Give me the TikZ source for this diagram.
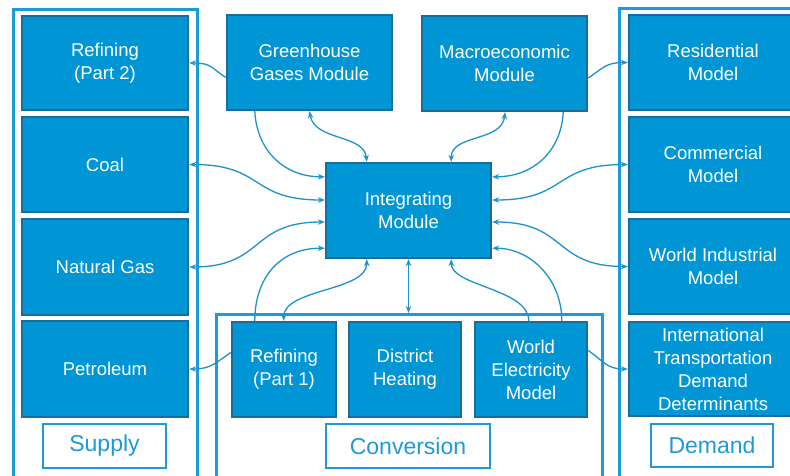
\documentclass[tikz,border=0pt]{standalone}
\usepackage{fontspec}
\setmainfont{Liberation Sans}
\usetikzlibrary{arrows.meta,calc}
\definecolor{boxfill}{RGB}{0,150,214}
\definecolor{boxedge}{RGB}{26,108,156}
\definecolor{frameblue}{RGB}{30,155,215}
\definecolor{linkblue}{RGB}{30,146,206}
\tikzset{
  module/.style={draw=boxedge, line width=2.4pt, fill=boxfill, text=white,
    align=center, inner sep=0pt, font=\fontsize{18.5}{23}\selectfont},
  grouplabel/.style={draw=frameblue, line width=2.4pt, fill=white, text=frameblue,
    inner sep=0pt, font=\fontsize{23}{26}\selectfont},
  container/.style={draw=frameblue, line width=2.6pt, inner sep=0pt, anchor=north west},
  link/.style={draw=linkblue, line width=1.3pt, -{Stealth[length=7pt,width=5.5pt]}},
  linkboth/.style={draw=linkblue, line width=1.3pt,
    {Stealth[length=7pt,width=5.5pt]}-{Stealth[length=7pt,width=5.5pt]}}
}
\begin{document}
\begin{tikzpicture}[x=1pt,y=-1pt]
\useasboundingbox (0,0) rectangle (790,475);
\clip (0,0) rectangle (790,475);
\fill[white] (0,0) rectangle (790,475);

% group frames
\node[container, minimum width=184, minimum height=490] (supplyc) at (12,8) {};
\node[container, minimum width=386, minimum height=190] (convc) at (215,313) {};
\node[container, minimum width=200, minimum height=490] (demandc) at (618,7) {};

% supply column
\node[module, minimum width=166, minimum height=94] (ref2) at (105,63) {Refining\\(Part 2)};
\node[module, minimum width=166, minimum height=95] (coal) at (105,164.5) {Coal};
\node[module, minimum width=166, minimum height=96] (gas) at (105,267) {Natural Gas};
\node[module, minimum width=166, minimum height=96] (petro) at (105,369) {Petroleum};
\node[grouplabel, minimum width=123, minimum height=44] (supplylbl) at (104.5,446) {Supply};

% central modules
\node[module, minimum width=165, minimum height=95] (ghg) at (309.5,62.5) {Greenhouse\\Gases Module};
\node[module, minimum width=165, minimum height=95] (macro) at (504.5,63.5) {Macroeconomic\\Module};
\node[module, minimum width=165, minimum height=95] (integ) at (408.5,210.5) {Integrating\\Module};

% conversion row
\node[module, minimum width=104, minimum height=95] (ref1) at (284,369.5) {Refining\\(Part 1)};
\node[module, minimum width=112, minimum height=95] (dh) at (405,369.5) {District\\Heating};
\node[module, minimum width=112, minimum height=95] (wem) at (531,369.5) {World\\Electricity\\Model};
\node[grouplabel, minimum width=164, minimum height=44] (convlbl) at (408,446) {Conversion};

% demand column
\node[module, minimum width=168, minimum height=95] (res) at (713,62.5) {Residential\\Model};
\node[module, minimum width=168, minimum height=95] (com) at (713,164.5) {Commercial\\Model};
\node[module, minimum width=168, minimum height=95] (wind) at (713,266.5) {World Industrial\\Model};
\node[module, minimum width=168, minimum height=94] (itd) at (713,369) {International\\Transportation\\Demand\\Determinants};
\node[grouplabel, minimum width=122, minimum height=43] (demandlbl) at (712,445.5) {Demand};

% connectors, left side
\draw[link] ($(ghg.west)+(0,15)$) .. controls +(-15,-10) and +(22,0) .. (ref2.east);
\draw[link] ($(ghg.south west)+(29,0)$) .. controls +(2,40) and +(-40,0) .. ($(integ.north west)+(0,15)$);
\draw[linkboth] (ghg.south) .. controls +(5,30) and +(-3,-28) .. ($(integ.north west)+(42,0)$);
\draw[linkboth] (coal.east) .. controls +(75,0) and +(-75,0) .. ($(integ.west)+(0,-10.5)$);
\draw[linkboth] (gas.east) .. controls +(75,0) and +(-75,0) .. ($(integ.west)+(0,11.5)$);
\draw[link] ($(ref1.west)+(0,-17)$) .. controls +(-15,10) and +(22,0) .. (petro.east);
\draw[link] ($(ref1.north west)+(24,0)$) .. controls +(0,-42) and +(-46,0) .. ($(integ.south west)+(0,-11)$);
\draw[linkboth] ($(ref1.north west)+(53,0)$) .. controls +(0,-32) and +(0,32) .. ($(integ.south west)+(42,0)$);

% connectors, centre and right side
\draw[linkboth] (integ.south) -- (integ.south |- convc.north);
\draw[link] ($(wem.north west)+(55,0)$) .. controls +(0,-32) and +(0,27) .. ($(integ.south east)+(-41,0)$);
\draw[link] ($(wem.north west)+(88,0)$) .. controls +(0,-42) and +(38,0) .. ($(integ.south east)+(0,-11)$);
\draw[link] ($(wem.east)+(0,-19)$) .. controls +(15,10) and +(-22,0) .. (itd.west);
\draw[linkboth] ($(integ.east)+(0,11.5)$) .. controls +(75,0) and +(-75,0) .. (wind.west);
\draw[linkboth] ($(integ.east)+(0,-10.5)$) .. controls +(75,0) and +(-75,0) .. (com.west);
\draw[link] ($(macro.south east)+(-25,0)$) .. controls +(-2,40) and +(40,0) .. ($(integ.north east)+(0,15)$);
\draw[linkboth] ($(macro.south)+(0.5,0)$) .. controls +(-3,30) and +(0,-28) .. ($(integ.north east)+(-41,0)$);
\draw[link] ($(macro.east)+(0,14.5)$) .. controls +(15,-10) and +(-22,0) .. (res.west);
\end{tikzpicture}
\end{document}
